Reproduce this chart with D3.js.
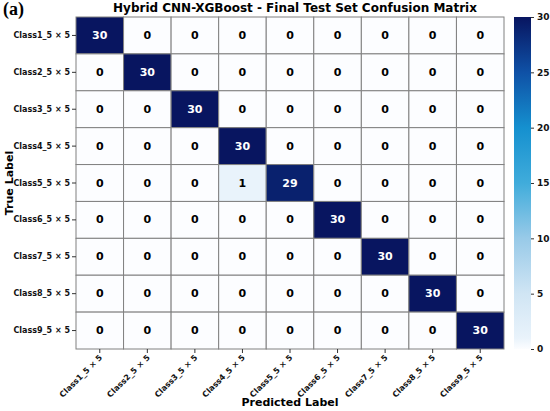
<!DOCTYPE html>
<html>
<head>
<meta charset="utf-8">
<script src="https://cdn.jsdelivr.net/npm/d3@7"></script>
<style>
  body { margin: 0; background: #fff; }
  svg { display: block; font-family: "DejaVu Sans", sans-serif; }
</style>
</head>
<body>
<div id="chart"></div>
<script>
const classes = ["Class1_5 × 5", "Class2_5 × 5", "Class3_5 × 5", "Class4_5 × 5", "Class5_5 × 5",
  "Class6_5 × 5", "Class7_5 × 5", "Class8_5 × 5", "Class9_5 × 5"];

// rows = true label, columns = predicted label
const counts = [
  [30, 0, 0, 0, 0, 0, 0, 0, 0],
  [0, 30, 0, 0, 0, 0, 0, 0, 0],
  [0, 0, 30, 0, 0, 0, 0, 0, 0],
  [0, 0, 0, 30, 0, 0, 0, 0, 0],
  [0, 0, 0, 1, 29, 0, 0, 0, 0],
  [0, 0, 0, 0, 0, 30, 0, 0, 0],
  [0, 0, 0, 0, 0, 0, 30, 0, 0],
  [0, 0, 0, 0, 0, 0, 0, 30, 0],
  [0, 0, 0, 0, 0, 0, 0, 0, 30]
];

const colorTicks = [0, 5, 10, 15, 20, 25, 30];
// colormap
const colorDomain = [0, 1, 5, 10, 15, 20, 25, 30];
const colorStops = ["#fcfdff", "#e9f3fb", "#d0e5f4", "#98cae8", "#40acdb", "#1590cf", "#0f51a6", "#081560"];

const width = 550, height = 411;
const margin = { left: 76, top: 17, right: 46, bottom: 62 };
const plotW = 428, plotH = 332;

const svg = d3.select("#chart").append("svg")
  .attr("width", width)
  .attr("height", height);

const x = d3.scaleBand().domain(d3.range(classes.length)).range([margin.left, margin.left + plotW]);
const y = d3.scaleBand().domain(d3.range(classes.length)).range([margin.top, margin.top + plotH]);
const color = d3.scaleLinear().domain(colorDomain).range(colorStops).interpolate(d3.interpolateRgb);

const cells = [];
counts.forEach((row, i) => row.forEach((v, j) => cells.push({ i, j, v })));

svg.append("g").selectAll("rect")
  .data(cells)
  .join("rect")
  .attr("x", d => x(d.j))
  .attr("y", d => y(d.i))
  .attr("width", x.bandwidth())
  .attr("height", y.bandwidth())
  .attr("fill", d => color(d.v))
  .attr("stroke", "#808080")
  .attr("stroke-width", 1);

svg.append("g").selectAll("text")
  .data(cells)
  .join("text")
  .attr("x", d => x(d.j) + x.bandwidth() / 2)
  .attr("y", d => y(d.i) + y.bandwidth() / 2)
  .attr("text-anchor", "middle")
  .attr("dominant-baseline", "central")
  .attr("font-size", 11)
  .attr("font-weight", "bold")
  .attr("fill", d => d.v > 15 ? "#fff" : "#000")
  .text(d => d.v);

// y axis
const yAxis = svg.append("g")
  .attr("transform", `translate(${margin.left},0)`)
  .call(d3.axisLeft(y).tickFormat(i => classes[i]).tickSize(4).tickPadding(2));
yAxis.select(".domain").remove();
yAxis.selectAll("line").attr("stroke", "#333");
yAxis.selectAll("text").attr("font-size", 8).attr("font-weight", "bold").attr("font-family", "DejaVu Sans").attr("fill", "#111");

// x axis
const xAxis = svg.append("g")
  .attr("transform", `translate(0,${margin.top + plotH})`)
  .call(d3.axisBottom(x).tickFormat(i => classes[i]).tickSize(4));
xAxis.select(".domain").remove();
xAxis.selectAll("line").attr("stroke", "#333");
xAxis.selectAll("text")
  .attr("font-size", 8)
  .attr("font-weight", "bold")
  .attr("font-family", "DejaVu Sans")
  .attr("fill", "#111")
  .attr("text-anchor", "end")
  .attr("dy", null)
  .attr("y", 0)
  .attr("transform", "translate(3,9) rotate(-45)");

// colorbar
const cbX = 514, cbW = 17;
const cb = d3.scaleLinear().domain([0, 30]).range([margin.top + plotH, margin.top]);
const grad = svg.append("defs").append("linearGradient")
  .attr("id", "cbgrad")
  .attr("x1", 0).attr("y1", 1).attr("x2", 0).attr("y2", 0);
grad.selectAll("stop")
  .data(colorDomain)
  .join("stop")
  .attr("offset", d => d / 30)
  .attr("stop-color", d => color(d));
svg.append("rect")
  .attr("x", cbX)
  .attr("y", margin.top)
  .attr("width", cbW)
  .attr("height", plotH)
  .attr("fill", "url(#cbgrad)");
const cbAxis = svg.append("g")
  .attr("transform", `translate(${cbX + cbW},0)`)
  .call(d3.axisRight(cb).tickValues(colorTicks).tickSize(3).tickPadding(3));
cbAxis.select(".domain").remove();
cbAxis.selectAll("line").attr("stroke", "#333");
cbAxis.selectAll("text").attr("font-size", 9).attr("font-weight", "bold").attr("font-family", "DejaVu Sans").attr("fill", "#111");

// titles
svg.append("text")
  .attr("x", margin.left + plotW / 2 + 5)
  .attr("y", 12)
  .attr("text-anchor", "middle")
  .attr("font-size", 12)
  .attr("font-weight", "bold")
  .text("Hybrid CNN-XGBoost - Final Test Set Confusion Matrix");

svg.append("text")
  .attr("x", margin.left + plotW / 2)
  .attr("y", 406)
  .attr("text-anchor", "middle")
  .attr("font-size", 11)
  .attr("font-weight", "bold")
  .text("Predicted Label");

svg.append("text")
  .attr("transform", `translate(9,${margin.top + plotH / 2}) rotate(-90)`)
  .attr("text-anchor", "middle")
  .attr("dominant-baseline", "central")
  .attr("font-size", 11)
  .attr("font-weight", "bold")
  .text("True Label");

svg.append("text")
  .attr("x", 3)
  .attr("y", 15)
  .attr("font-family", "Liberation Serif, serif")
  .attr("font-size", 18)
  .attr("font-weight", "bold")
  .text("(a)");
</script>
</body>
</html>
